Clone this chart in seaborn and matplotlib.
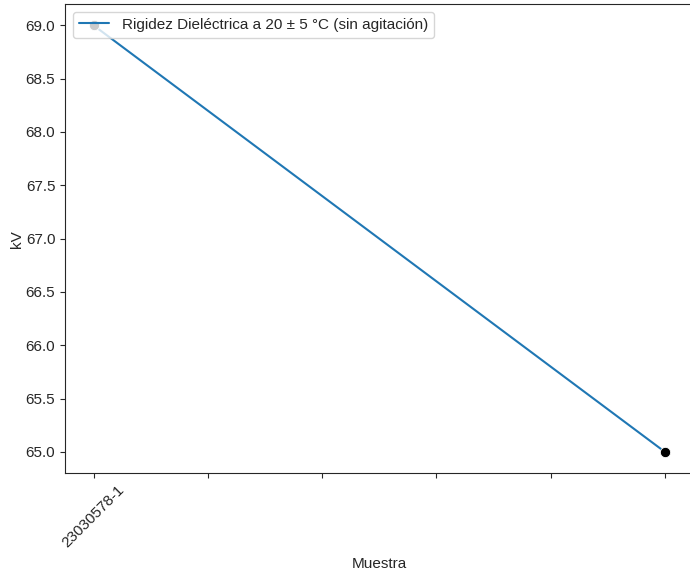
import matplotlib
matplotlib.use("Agg")
import matplotlib.pyplot as plt
import seaborn as sns
import pandas as pd

# Dielectric strength readings per sample position
positions = [0, 5]
kv_values = [69.0, 65.0]
tick_positions = [0, 1, 2, 3, 4, 5]
tick_labels = ["23030578-1", "", "", "", "", ""]
y_ticks = [65.0, 65.5, 66.0, 66.5, 67.0, 67.5, 68.0, 68.5, 69.0]
series_label = "Rigidez Dieléctrica a 20 ± 5 °C (sin agitación)"

df = pd.DataFrame({"Muestra": positions, "kV": kv_values})

sns.set_style("ticks")
plt.rcParams["font.family"] = ["Liberation Sans", "DejaVu Sans"]
plt.rcParams["font.size"] = 11

fig = plt.figure(figsize=(6.9, 5.75), dpi=100)
ax = fig.add_axes([0.0942, 0.177, 0.9108, 0.816])

sns.lineplot(data=df, x="Muestra", y="kV", ax=ax, color="#1f77b4",
             linewidth=1.5, label=series_label)
sns.scatterplot(data=df, x="Muestra", y="kV", ax=ax, color="black",
                s=55, zorder=3, legend=False)

ax.set_xticks(tick_positions)
ax.set_xticklabels(tick_labels, rotation=45)
ax.set_yticks(y_ticks)
ax.set_yticklabels([f"{v:.1f}" for v in y_ticks])
ax.set_xlabel("Muestra", fontsize=11, labelpad=5)
ax.set_ylabel("kV", fontsize=11, labelpad=1)
ax.tick_params(labelsize=11)
ax.legend(loc="upper left", fontsize=11)

fig.savefig("out.png", dpi=100)
